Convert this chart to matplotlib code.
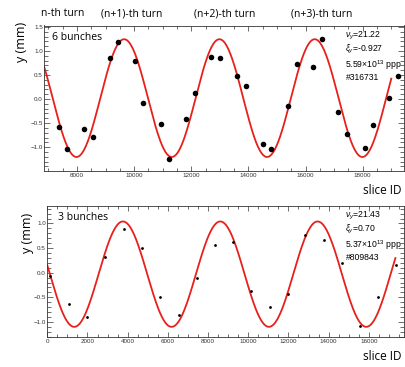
import numpy as np
import matplotlib.pyplot as plt
from matplotlib.ticker import MultipleLocator

plt.rcParams['mathtext.fontset'] = 'custom'
plt.rcParams['mathtext.rm'] = 'Liberation Sans'
plt.rcParams['mathtext.it'] = 'Liberation Sans:italic'

# 6 bunches, shot #316731
top_x = [7355, 7667, 8256, 8555, 9157, 9435, 10035, 10322, 10946, 11237,
         11813, 12115, 12693, 13016, 13605, 13906, 14506, 14784, 15373, 15685,
         16274, 16575, 17151, 17463, 18066, 18355, 18934, 19246]
top_y = [-0.58, -1.03, -0.625, -0.785, 0.86, 1.19, 0.80, -0.083, -0.51, -1.24,
         -0.41, 0.125, 0.875, 0.86, 0.47, 0.27, -0.94, -1.035, -0.146, 0.735,
         0.66, 1.25, -0.27, -0.735, -1.02, -0.535, 0.015, 0.49]
# fit: amplitude, period, peak position, offset, x range
top_fit = (1.225, 3335, 12985, 0.02, 6856, 19000)
top_info = [r'$\nu_y$=21.22', r'$\xi_y$=-0.927', r'5.59×10$^{13}$ ppp', '#316731']

# 3 bunches, shot #809843
bot_x = [150, 1083, 1985, 2887, 3810, 4692, 5614, 6531, 7433, 8321,
         9253, 10140, 11058, 11955, 12832, 13754, 14657, 15554, 16456, 17373]
bot_y = [-0.07, -0.63, -0.89, 0.32, 0.88, 0.50, -0.49, -0.85, -0.10, 0.565,
         0.63, -0.375, -0.69, -0.43, 0.77, 0.655, 0.19, -1.08, -0.485, 0.146]
bot_fit = (1.07, 4844, 8607, -0.03, 0, 17323)
bot_info = [r'$\nu_y$=21.43', r'$\xi_y$=0.70', r'5.37×10$^{13}$ ppp', '#809843']

turns = ['n-th turn', '(n+1)-th turn', '(n+2)-th turn', '(n+3)-th turn']
turn_pos = [63, 132, 225, 322]

fig = plt.figure(figsize=(4.06, 3.67), dpi=100)
W, H = 406.0, 367.0

def style(ax):
    ax.tick_params(which='both', direction='in', top=True, right=True,
                   labelsize=4.5, labelcolor='#333333', color='#333333',
                   width=0.5)
    ax.tick_params(axis='y', which='major', length=4.5, pad=1)
    ax.tick_params(axis='y', which='minor', length=2.8)
    ax.tick_params(axis='x', which='major', length=3.4, pad=1.3)
    ax.tick_params(axis='x', which='minor', length=1.9)
    ax.xaxis.set_major_locator(MultipleLocator(2000))
    ax.xaxis.set_minor_locator(MultipleLocator(500))
    ax.yaxis.set_major_locator(MultipleLocator(0.5))
    ax.yaxis.set_minor_locator(MultipleLocator(0.1))
    for s in ax.spines.values():
        s.set_linewidth(0.6)
        s.set_color('#333333')
    for lab in ax.get_xticklabels() + ax.get_yticklabels():
        lab.set_family('Liberation Sans')

def fit_curve(ax, p):
    a, T, x0, off, xa, xb = p
    xs = np.linspace(xa, xb, 600)
    ax.plot(xs, off + a * np.cos(2 * np.pi * (xs - x0) / T),
            color='#e8201c', lw=1.3, zorder=2)

ax1 = fig.add_axes([44.3 / W, 1 - 170.7 / H, 359.7 / W, 145.2 / H])
fit_curve(ax1, top_fit)
ax1.scatter(top_x, top_y, s=16, color='black', zorder=3, linewidths=0)
ax1.set_xlim(6856, 19445)
ax1.set_ylim(-1.49, 1.53)
style(ax1)

ax2 = fig.add_axes([47.3 / W, 1 - 336.7 / H, 356.7 / W, 131.0 / H])
fit_curve(ax2, bot_fit)
ax2.scatter(bot_x, bot_y, s=4, color='black', zorder=3, linewidths=0)
ax2.set_xlim(0, 17750)
ax2.set_ylim(-1.30, 1.36)
style(ax2)

for t, xp in zip(turns, turn_pos):
    fig.text(xp / W, 1 - 14 / H, t, ha='center', va='center',
             family='Open Sans', fontsize=7.5)

fig.text(52 / W, 1 - 37 / H, '6 bunches', ha='left', va='center',
         family='Open Sans', fontsize=7.5)
fig.text(58 / W, 1 - 218 / H, '3 bunches', ha='left', va='center',
         family='Open Sans', fontsize=7.5)

# info boxes, one block each
fig.text(345.5 / W, 1 - 29.5 / H, '\n'.join(top_info), ha='left', va='top',
         family='Liberation Sans', fontsize=6.2, linespacing=1.2)
fig.text(345.5 / W, 1 - 209.5 / H, '\n'.join(bot_info), ha='left', va='top',
         family='Liberation Sans', fontsize=6.2, linespacing=1.2)

fig.text(22 / W, 1 - 42 / H, 'y (mm)', rotation=90, ha='center', va='center',
         family='Open Sans', fontsize=9)
fig.text(28 / W, 1 - 233 / H, 'y (mm)', rotation=90, ha='center', va='center',
         family='Open Sans', fontsize=9)
fig.text(402 / W, 1 - 190 / H, 'slice ID', ha='right', va='center',
         family='Open Sans', fontsize=8.5)
fig.text(402 / W, 1 - 357 / H, 'slice ID', ha='right', va='center',
         family='Open Sans', fontsize=8.5)

fig.savefig('out.png', dpi=100)
